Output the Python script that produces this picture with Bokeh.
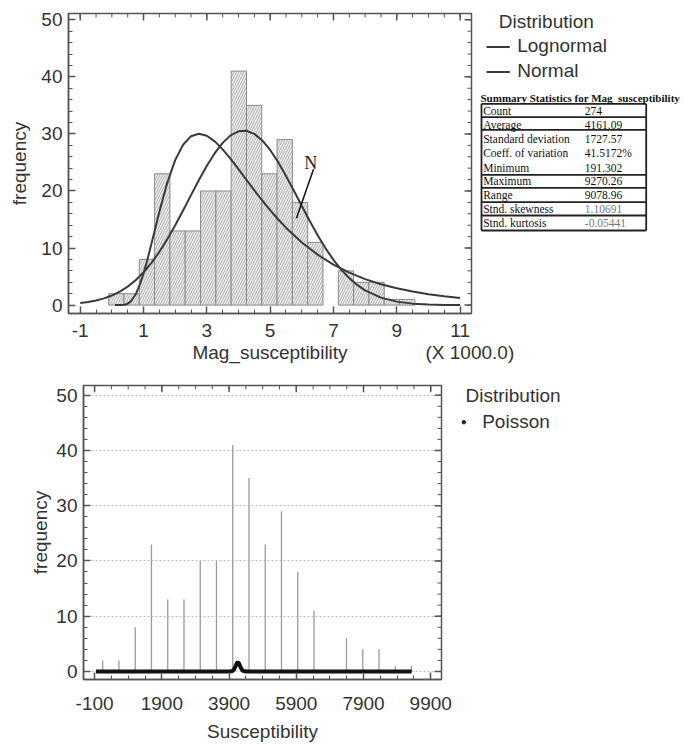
from bokeh.plotting import figure
from bokeh.models import Range1d, FixedTicker, Label, CustomJSTickFormatter
from bokeh.embed import file_html
from bokeh.resources import INLINE

# ---------------- data ----------------
bin_mid = [142, 625, 1109, 1592, 2076, 2559, 3043, 3526, 4010, 4493,
           4977, 5460, 5944, 6427, 6911, 7394, 7878, 8361, 8845, 9328]
bin_width = 483.5
counts = [2, 2, 8, 23, 13, 13, 20, 20, 41, 35, 23, 29, 18, 11, 0, 6, 4, 4, 1, 1]

normal_x = [-1, -0.75, -0.5, -0.25, 0, 0.25, 0.5, 0.75, 1, 1.25, 1.5, 1.75, 2, 2.25, 2.5,
            2.75, 3, 3.25, 3.5, 3.75, 4, 4.25, 4.5, 4.75, 5, 5.25, 5.5, 5.75, 6, 6.25,
            6.5, 6.75, 7, 7.25, 7.5, 7.75, 8, 8.5, 9, 9.5, 10, 10.5, 11]
normal_y = [0.35, 0.54, 0.80, 1.18, 1.68, 2.36, 3.24, 4.36, 5.74, 7.40, 9.34, 11.55, 13.99,
            16.59, 19.27, 21.91, 24.41, 26.62, 28.43, 29.74, 30.46, 30.55, 30.01, 28.86,
            27.19, 25.08, 22.65, 20.04, 17.36, 14.73, 12.23, 9.95, 7.93, 6.19, 4.73, 3.54,
            2.59, 1.31, 0.61, 0.26, 0.10, 0.04, 0.01]

lognormal_x = [0.1, 0.25, 0.4, 0.5, 0.6, 0.75, 0.9, 1, 1.1, 1.25, 1.5, 1.75, 2, 2.25, 2.5,
               2.75, 3, 3.25, 3.5, 3.75, 4, 4.25, 4.5, 4.75, 5, 5.25, 5.5, 6, 6.5, 7, 7.5,
               8, 8.5, 9, 9.5, 10, 10.5, 11]
lognormal_y = [0.0, 0.002, 0.065, 0.25, 0.65, 1.85, 3.82, 5.54, 7.50, 10.75, 16.37, 21.44,
               25.41, 28.11, 29.60, 30.04, 29.67, 28.69, 27.29, 25.62, 23.82, 21.96, 20.12,
               18.33, 16.64, 15.05, 13.57, 10.98, 8.84, 7.09, 5.69, 4.56, 3.66, 2.94, 2.37,
               1.91, 1.55, 1.25]

poisson_x = [-60, 3900, 4000, 4050, 4100, 4130, 4161, 4190, 4220, 4270, 4320, 4420, 9330]
poisson_y = [0, 0, 0.07, 0.38, 1.06, 1.47, 1.65, 1.49, 1.09, 0.40, 0.08, 0, 0]

stat_labels = ["Count", "Average", "Standard deviation", "Coeff. of variation", "Minimum",
               "Maximum", "Range", "Stnd. skewness", "Stnd. kurtosis"]
stat_values = ["274", "4161.09", "1727.57", "41.5172%", "191.302", "9270.26", "9078.96",
               "1.10691", "-0.05441"]

top_xticks = [-1, 1, 3, 5, 7, 9, 11]
bottom_xticks = [-100, 1900, 3900, 5900, 7900, 9900]
y_ticks = [0, 10, 20, 30, 40, 50]
top_xminor = [-1 + 0.5 * i for i in range(25)]
bottom_xminor = [-100 + 500 * i for i in range(21)]
y_minor = [2 * i for i in range(26)]

SANS = "Liberation Sans"
SERIF = "Liberation Serif"
FRAME = "#555555"
TXT = "#333333"
FS = "19px"


def style_axis(ax):
    ax.axis_line_color = FRAME
    ax.axis_line_width = 1.5
    ax.major_tick_in = 7
    ax.major_tick_out = 0
    ax.minor_tick_in = 4
    ax.minor_tick_out = 0
    ax.major_tick_line_color = FRAME
    ax.minor_tick_line_color = FRAME
    ax.major_tick_line_width = 1.5
    ax.minor_tick_line_width = 1
    ax.major_label_text_font = SANS
    ax.major_label_text_color = TXT
    ax.major_label_text_font_size = FS
    ax.axis_label_text_font = SANS
    ax.axis_label_text_color = TXT
    ax.axis_label_text_font_style = "normal"
    ax.axis_label_text_font_size = FS
    ax.formatter = CustomJSTickFormatter(code="return tick.toString()")


def mirror_ticks(p, xr, yr, fw, fh, xmaj, xmin, ymaj, ymin):
    """inward tick marks on the top and right edges of the frame"""
    dy_maj = 7 * (yr[1] - yr[0]) / fh
    dy_min = 4 * (yr[1] - yr[0]) / fh
    dx_maj = 7 * (xr[1] - xr[0]) / fw
    dx_min = 4 * (xr[1] - xr[0]) / fw
    p.segment(x0=xmaj, y0=[yr[1]] * len(xmaj), x1=xmaj, y1=[yr[1] - dy_maj] * len(xmaj),
              line_color=FRAME, line_width=1.5)
    p.segment(x0=xmin, y0=[yr[1]] * len(xmin), x1=xmin, y1=[yr[1] - dy_min] * len(xmin),
              line_color=FRAME, line_width=1)
    p.segment(x0=[xr[1]] * len(ymaj), y0=ymaj, x1=[xr[1] - dx_maj] * len(ymaj), y1=ymaj,
              line_color=FRAME, line_width=1.5)
    p.segment(x0=[xr[1]] * len(ymin), y0=ymin, x1=[xr[1] - dx_min] * len(ymin), y1=ymin,
              line_color=FRAME, line_width=1)


def abs_style(left, top):
    return {"position": "absolute", "left": f"{left}px", "top": f"{top}px"}


# ---------------- top chart ----------------
TXR = (-1.37, 11.36)
TYR = (-1.47, 51.1)
p1 = figure(width=684, height=372, x_range=Range1d(*TXR), y_range=Range1d(*TYR),
            output_backend="svg", toolbar_location=None,
            min_border_left=68, min_border_right=213, min_border_top=13, min_border_bottom=59,
            styles=abs_style(0, 0))
p1.xgrid.visible = False
p1.ygrid.visible = False
p1.outline_line_color = FRAME
p1.outline_line_width = 1.5
p1.xaxis.ticker = FixedTicker(ticks=top_xticks, minor_ticks=top_xminor)
p1.yaxis.ticker = FixedTicker(ticks=y_ticks, minor_ticks=y_minor)
p1.xaxis.axis_label = "Mag_susceptibility"
p1.yaxis.axis_label = "frequency"
for ax in p1.xaxis + p1.yaxis:
    style_axis(ax)
p1.xaxis.major_label_standoff = 10
p1.xaxis.axis_label_standoff = 2
p1.yaxis.major_label_standoff = 6
p1.yaxis.axis_label_standoff = 8
mirror_ticks(p1, TXR, TYR, 403, 300, top_xticks, top_xminor, y_ticks, y_minor)

bx = [m / 1000 for m, c in zip(bin_mid, counts) if c > 0]
bt = [c for c in counts if c > 0]
p1.vbar(x=bx, top=bt, bottom=0, width=bin_width / 1000, fill_color="#ececec",
        line_color="#8a8a8a", line_width=1, hatch_pattern="/", hatch_color="#8c8c8c",
        hatch_scale=5, hatch_weight=0.6)
p1.line(lognormal_x, lognormal_y, line_color="#3a3a3a", line_width=2)
p1.line(normal_x, normal_y, line_color="#3a3a3a", line_width=2)

N_TEXT_AT = (6.28, 24.9)
N_LINE = (6.37, 23.8, 5.83, 15.2)
p1.segment(x0=[N_LINE[0]], y0=[N_LINE[1]], x1=[N_LINE[2]], y1=[N_LINE[3]],
           line_color="#111111", line_width=1.5)
p1.add_layout(Label(x=N_TEXT_AT[0], y=N_TEXT_AT[1], text="N", text_font=SERIF,
                    text_font_size="18px", text_color="#222222", text_align="center",
                    text_baseline="middle"))

# ---------------- bottom chart ----------------
BXR = (-430, 10220)
BYR = (-1.46, 51.76)
p2 = figure(width=684, height=372, x_range=Range1d(*BXR), y_range=Range1d(*BYR),
            output_backend="svg", toolbar_location=None,
            min_border_left=83, min_border_right=243, min_border_top=13, min_border_bottom=57,
            styles=abs_style(0, 372))
p2.xgrid.visible = False
p2.ygrid.ticker = FixedTicker(ticks=y_ticks)
p2.ygrid.grid_line_color = "#bbbbbb"
p2.ygrid.grid_line_dash = "2 2"
p2.outline_line_color = FRAME
p2.outline_line_width = 1.5
p2.xaxis.ticker = FixedTicker(ticks=bottom_xticks, minor_ticks=bottom_xminor)
p2.yaxis.ticker = FixedTicker(ticks=y_ticks, minor_ticks=y_minor)
p2.xaxis.axis_label = "Susceptibility"
p2.yaxis.axis_label = "frequency"
for ax in p2.xaxis + p2.yaxis:
    style_axis(ax)
p2.xaxis.major_label_standoff = 17
p2.xaxis.axis_label_standoff = 8
p2.yaxis.major_label_standoff = 6
p2.yaxis.axis_label_standoff = 2
mirror_ticks(p2, BXR, BYR, 358, 302, bottom_xticks, bottom_xminor, y_ticks, y_minor)

p2.segment(x0=bin_mid, y0=[0] * len(bin_mid), x1=bin_mid, y1=counts,
           line_color="#9a9a9a", line_width=1.3)
p2.line(poisson_x, poisson_y, line_color="#111111", line_width=4)


# ---------------- side panels (legend, table) in page-pixel coordinates ----------------
def side_panel(left, top, w, h):
    s = figure(width=w, height=h, x_range=Range1d(left, left + w),
               y_range=Range1d(top + h, top), x_axis_type=None, y_axis_type=None,
               output_backend="svg", toolbar_location=None, min_border=0,
               background_fill_color=None, border_fill_color=None,
               outline_line_color=None, styles=abs_style(left, top))
    return s


def txt(p, x, y, t, font=SANS, size=FS, color=TXT, style="normal"):
    p.add_layout(Label(x=x, y=y, text=t, text_font=font, text_font_size=size,
                       text_color=color, text_font_style=style, text_baseline="middle"))


s1 = side_panel(420, 0, 264, 372)
txt(s1, 498.3, 20.7, "Distribution")
LEG_X = [486, 509.3]
for yy, lab in ((45.0, "Lognormal"), (70.0, "Normal")):
    s1.line(LEG_X, [yy + 1.5, yy + 1.5], line_color="#3a3a3a", line_width=2)
    txt(s1, 516.7, yy, lab)
txt(s1, 425, 351.7, "(X 1000.0)")

txt(s1, 480, 97, "Summary Statistics for Mag_susceptibility", font=SERIF, size="11px",
    color="#111111", style="bold")
row_y = [110.7, 124, 138.3, 152.7, 167.3, 180.7, 194.7, 208.3, 222.7]
for i, (lab, val) in enumerate(zip(stat_labels, stat_values)):
    txt(s1, 482.7, row_y[i], lab, font=SERIF, size="11.5px", color="#111111")
    txt(s1, 584.3, row_y[i], val, font=SERIF, size="11.5px",
        color="#7a7a7a" if i >= 7 else "#111111")
rule_y = [103.3, 116.7, 129.3, 174.3, 187.3, 201.7, 215, 230]
TL, TR = 481, 645.7
s1.segment(x0=[TL] * len(rule_y), y0=rule_y, x1=[TR] * len(rule_y), y1=rule_y,
           line_color="#222222", line_width=1.8)
s1.segment(x0=[TL, TR], y0=[rule_y[0]] * 2, x1=[TL, TR], y1=[rule_y[-1]] * 2,
           line_color="#222222", line_width=1.8)

s2 = side_panel(441, 372, 243, 372)
txt(s2, 465, 395, "Distribution")
s2.scatter([463.3], [421.7], size=3.5, fill_color="#222222", line_color="#222222")
txt(s2, 481.7, 420.7, "Poisson")

open("out.html", "w").write(file_html([p1, p2, s1, s2], INLINE))
